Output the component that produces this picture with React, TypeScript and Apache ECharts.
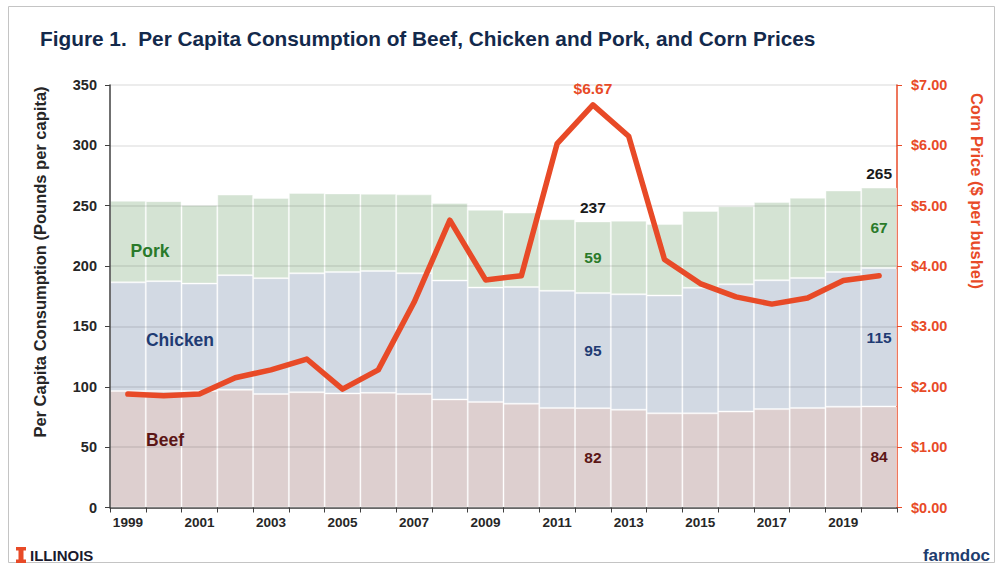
import React, { useEffect, useRef } from "react";
import * as echarts from "echarts";

const years = ["1999", "2000", "2001", "2002", "2003", "2004", "2005", "2006", "2007", "2008", "2009", "2010", "2011", "2012", "2013", "2014", "2015", "2016", "2017", "2018", "2019", "2020"];
const beef = [96.5, 96.5, 96.5, 97.5, 94, 95.5, 94.5, 95, 94, 89.5, 87.5, 86, 82.5, 82.3, 81, 78, 78, 79.5, 81.5, 82.5, 83.5, 83.7];
const chicken = [90, 91, 89, 95, 96, 98.5, 100.5, 101, 100, 98.5, 94.7, 96.7, 97, 95.3, 95.6, 97.6, 104, 105.4, 106.7, 107.7, 111.6, 114.6];
const pork = [67.6, 66.3, 65, 66.7, 66.4, 66.6, 65.2, 63.9, 65.4, 64.2, 64.4, 61.6, 59.3, 59.4, 61, 59.2, 63.7, 64.7, 64.8, 66.4, 67.5, 66.7];
const corn = [1.88, 1.85, 1.88, 2.15, 2.28, 2.46, 1.96, 2.28, 3.4, 4.76, 3.77, 3.84, 6.03, 6.67, 6.15, 4.11, 3.71, 3.49, 3.37, 3.47, 3.76, 3.84];
const labeledYears = ["2012", "2020"];
const peakPriceYear = "2012";

const FONT = "'Liberation Sans', Arial, Helvetica, sans-serif";
const ORANGE = "#E84A27";
const NAVY = "#13294B";

export default function App() {
  const ref = useRef<HTMLDivElement>(null);
  useEffect(() => {
    if (!ref.current) return;
    const chart = echarts.init(ref.current, null, { renderer: "svg" });
    const totals = years.map((_, i) => beef[i] + chicken[i] + pork[i]);
    const segLabel = (color: string) => ({
      position: "inside",
      color,
      fontWeight: "bold",
      fontSize: 15.5,
      fontFamily: FONT,
      formatter: (p: any) => String(Math.round(p.value)),
    });
    const barItem = (color: string) => ({
      color,
      borderColor: "rgba(255,255,255,0.4)",
      borderWidth: 1,
    });
    const withLabels = (arr: number[]) =>
      arr.map((v, i) => ({ value: v, label: { show: labeledYears.includes(years[i]) } }));

    chart.setOption({
      animation: false,
      textStyle: { fontFamily: FONT },
      grid: { left: 110, right: 101, top: 85, bottom: 59.5, containLabel: false },
      xAxis: {
        type: "category",
        data: years,
        boundaryGap: true,
        axisLine: { lineStyle: { color: "#404040", width: 1.5 } },
        axisTick: { show: true, alignWithLabel: false, interval: 0, length: 5, lineStyle: { color: "#404040" } },
        axisLabel: { interval: 1, color: "#262626", fontWeight: "bold", fontSize: 13.5, fontFamily: FONT, margin: 8 },
      },
      yAxis: [
        {
          type: "value",
          min: 0,
          max: 350,
          interval: 50,
          z: 3,
          axisLine: { show: true, lineStyle: { color: "#404040", width: 1.5 } },
          axisTick: { show: true, length: 5, lineStyle: { color: "#404040" } },
          axisLabel: { color: "#262626", fontWeight: "bold", fontSize: 14.5, fontFamily: FONT, margin: 13 },
          splitLine: { show: true, lineStyle: { color: "rgba(0,0,0,0.1)", width: 1.5 } },
        },
        {
          type: "value",
          min: 0,
          max: 7,
          interval: 1,
          position: "right",
          axisLine: { show: true, lineStyle: { color: ORANGE, width: 1.5 } },
          axisTick: { show: true, length: 5, lineStyle: { color: ORANGE } },
          axisLabel: {
            color: ORANGE,
            fontWeight: "bold",
            fontSize: 14.5,
            fontFamily: FONT,
            margin: 14,
            formatter: (v: number) => "$" + v.toFixed(2),
          },
          splitLine: { show: false },
        },
      ],
      series: [
        {
          name: "Beef",
          type: "bar",
          stack: "meat",
          barCategoryGap: "0%",
          data: withLabels(beef),
          itemStyle: barItem("#DDCFCF"),
          label: segLabel("#5B1616"),
          z: 2,
        },
        {
          name: "Chicken",
          type: "bar",
          stack: "meat",
          barCategoryGap: "0%",
          data: withLabels(chicken),
          itemStyle: barItem("#D2D9E3"),
          label: segLabel("#1F3B73"),
          z: 2,
        },
        {
          name: "Pork",
          type: "bar",
          stack: "meat",
          barCategoryGap: "0%",
          data: withLabels(pork),
          itemStyle: barItem("#D4E3D3"),
          label: segLabel("#2A7A2A"),
          z: 2,
        },
        {
          name: "Total",
          type: "scatter",
          data: withLabels(totals),
          symbolSize: 2,
          itemStyle: { color: "#ffffff", opacity: 1 },
          label: {
            position: "top",
            distance: 5,
            color: "#1a1a1a",
            opacity: 1,
            textBorderWidth: 0,
            fontWeight: "bold",
            fontSize: 15.5,
            fontFamily: FONT,
            formatter: (p: any) => String(Math.round(p.value)),
          },
          z: 1,
        },
        {
          name: "Corn Price",
          type: "line",
          yAxisIndex: 1,
          data: corn.map((v, i) => ({ value: v, label: { show: years[i] === peakPriceYear } })),
          symbol: "circle",
          symbolSize: 1,
          showSymbol: true,
          itemStyle: { color: ORANGE },
          lineStyle: { color: ORANGE, width: 5.5, cap: "round", join: "round" },
          label: {
            position: "top",
            distance: 8,
            color: ORANGE,
            fontWeight: "bold",
            fontSize: 15.5,
            fontFamily: FONT,
            formatter: (p: any) => "$" + Number(p.value).toFixed(2),
          },
          z: 5,
        },
      ],
      graphic: [
        {
          type: "rect",
          shape: { x: 8.5, y: 6.5, width: 986, height: 556 },
          style: { fill: "none", stroke: "#c4c4c4", lineWidth: 1 },
          silent: true,
        },
        {
          type: "text",
          x: 40,
          y: 38,
          style: {
            text: "Figure 1.\u00a0 Per Capita Consumption of Beef, Chicken and Pork, and Corn Prices",
            fill: NAVY,
            font: `bold 20.8px ${FONT}`,
            verticalAlign: "middle",
          },
        },
        {
          type: "text",
          x: 40,
          y: 262,
          rotation: Math.PI / 2,
          style: {
            text: "Per Capita Consumption (Pounds per capita)",
            fill: "#262626",
            font: `bold 16.5px ${FONT}`,
            align: "center",
            verticalAlign: "middle",
          },
        },
        {
          type: "text",
          x: 977,
          y: 191,
          rotation: -Math.PI / 2,
          style: {
            text: "Corn Price ($ per bushel)",
            fill: ORANGE,
            font: `bold 16.5px ${FONT}`,
            align: "center",
            verticalAlign: "middle",
          },
        },
        {
          type: "text",
          x: 150,
          y: 251,
          style: { text: "Pork", fill: "#2A7A2A", font: `bold 17.5px ${FONT}`, align: "center", verticalAlign: "middle" },
          z: 10,
        },
        {
          type: "text",
          x: 180,
          y: 340,
          style: { text: "Chicken", fill: "#1F3B73", font: `bold 17.5px ${FONT}`, align: "center", verticalAlign: "middle" },
          z: 10,
        },
        {
          type: "text",
          x: 165,
          y: 440,
          style: { text: "Beef", fill: "#5B1616", font: `bold 17.5px ${FONT}`, align: "center", verticalAlign: "middle" },
          z: 10,
        },
        {
          type: "polygon",
          shape: {
            points: [
              [16, 547], [26, 547], [26, 550.5], [23.5, 550.5], [23.5, 559.5], [26, 559.5], [26, 563],
              [16, 563], [16, 559.5], [18.5, 559.5], [18.5, 550.5], [16, 550.5],
            ],
          },
          style: { fill: ORANGE },
        },
        {
          type: "text",
          x: 30,
          y: 555.5,
          style: { text: "ILLINOIS", fill: "#1a1a2e", font: `bold 15px ${FONT}`, verticalAlign: "middle" },
        },
        {
          type: "text",
          x: 990,
          y: 555,
          style: { text: "farmdoc", fill: "#1D3C6E", font: `bold 17px ${FONT}`, align: "right", verticalAlign: "middle" },
        },
      ],
    });
    return () => chart.dispose();
  }, []);
  return (
    <div
      ref={ref}
      style={{ position: "fixed", left: 0, top: 0, width: 998, height: 567, background: "#ffffff" }}
    />
  );
}
